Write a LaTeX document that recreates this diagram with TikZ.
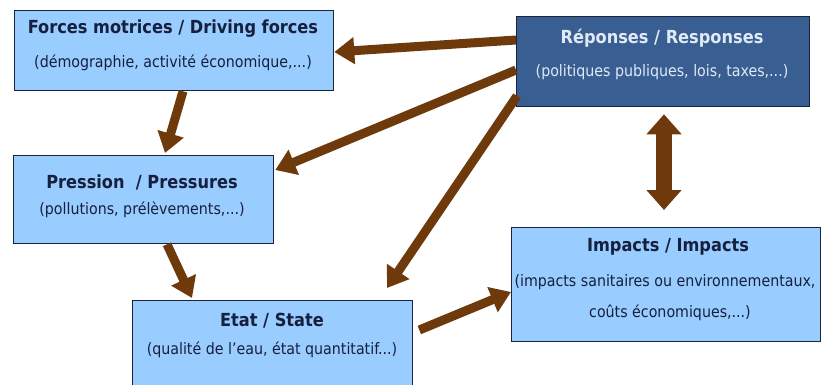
\documentclass[tikz,border=0pt]{standalone}
\usepackage{fontspec}
\setmainfont{DejaVu Sans Condensed}
\usetikzlibrary{arrows.meta,calc}
\definecolor{lightbox}{RGB}{153,204,255}
\definecolor{darkbox}{RGB}{56,94,146}
\definecolor{boxline}{RGB}{25,35,60}
\definecolor{navytext}{RGB}{22,32,62}
\definecolor{lighttext}{RGB}{225,233,245}
\definecolor{brownarrow}{RGB}{110,58,12}
\tikzset{
  lbox/.style={draw=boxline, line width=1.3pt, fill=lightbox, anchor=north west, inner sep=0pt},
  dbox/.style={draw=boxline, line width=1.3pt, fill=darkbox, anchor=north west, inner sep=0pt},
  ttl/.style={font=\bfseries\fontsize{18}{20}\selectfont, text=navytext, inner sep=0pt},
  sub/.style={font=\fontsize{15.8}{17}\selectfont, text=navytext, inner sep=0pt},
  brarrow/.style={draw=brownarrow, line width=9pt, -{Triangle[length=20pt,width=26pt]}},
  dblarrow/.style={draw=brownarrow, line width=16pt, {Triangle[length=20pt,width=34pt]}-{Triangle[length=20pt,width=34pt]}}
}
\begin{document}
\begin{tikzpicture}[x=1pt,y=-1pt]
\useasboundingbox (0,0) rectangle (822,385);
\clip (0,0) rectangle (822,385);
\fill[white] (0,0) rectangle (822,385);
% boxes
\node[lbox, minimum width=319pt, minimum height=80pt] (forces) at (14,10) {};
\node[lbox, minimum width=260pt, minimum height=88pt] (pression) at (13,155) {};
\node[dbox, minimum width=293pt, minimum height=90pt] (reponses) at (516,16) {};
\node[lbox, minimum width=280pt, minimum height=95pt] (etat) at (132,300) {};
\node[lbox, minimum width=309pt, minimum height=114pt] (impacts) at (511,227) {};
% texts
\node[ttl] (forcesT) at (173,29) {Forces motrices / Driving forces};
\node[sub] (forcesS) at (173,63) {(démographie, activité économique,...)};
\node[ttl] (pressionT) at (142,182) {Pression~~/ Pressures};
\node[sub] (pressionS) at (142,210) {(pollutions, prélèvements,...)};
\node[ttl, text=lighttext] (reponsesT) at (662,38) {Réponses / Responses};
\node[sub, text=lighttext] (reponsesS) at (662,72) {(politiques publiques, lois, taxes,...)};
\node[ttl] (etatT) at (272,321) {Etat / State};
\node[sub] (etatS) at (272,350) {(qualité de l'eau, état quantitatif...)};
\node[ttl] (impactsT) at (668,247) {Impacts / Impacts};
\node[sub] (impactsS) at (665,282) {(impacts sanitaires ou environnementaux,};
\node[sub] (impactsS2) at (670,313) {coûts économiques,...)};
% connectors
\draw[brarrow] ($(reponses.north west)+(0,24)$) -- ($(forces.north east)+(0,42)$);
\draw[brarrow] ($(reponses.north west)+(0,54)$) -- ($(pression.north east)+(1,15)$);
\draw[brarrow] ($(reponses.north west)+(1,80)$) -- ($(etat.north west)+(255,-12)$);
\draw[brarrow] ($(forces.south west)+(169,0)$) -- ($(pression.north west)+(152,-2)$);
\draw[brarrow] ($(pression.south west)+(154,0)$) -- ($(etat.north west)+(60,-2)$);
\draw[brarrow] ($(etat.north east)+(6,30)$) -- ($(impacts.north west)+(0,65)$);
\draw[dblarrow] ($(reponses.south west)+(148,7)$) -- ($(impacts.north west)+(153,-17)$);
\end{tikzpicture}
\end{document}
